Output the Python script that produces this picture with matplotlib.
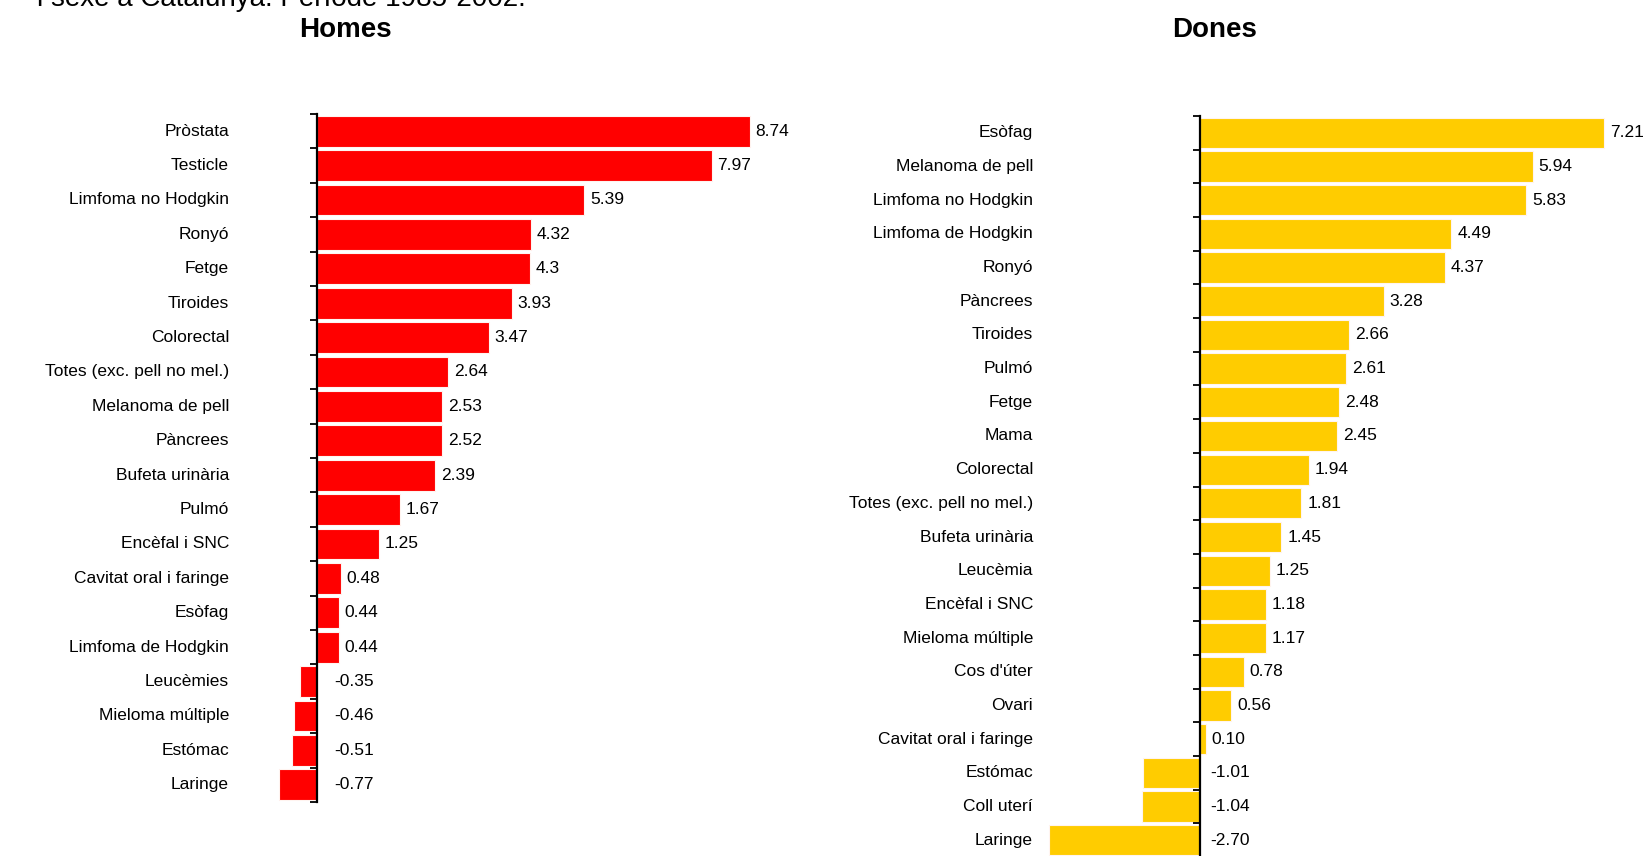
import matplotlib
matplotlib.use("Agg")
import matplotlib.pyplot as plt

plt.rcParams['font.family'] = ['Liberation Sans', 'DejaVu Sans']

# ---------------------------------------------------------------------------
# dades
# ---------------------------------------------------------------------------
homes_cat = ["Pròstata", "Testicle", "Limfoma no Hodgkin", "Ronyó", "Fetge",
             "Tiroides", "Colorectal", "Totes (exc. pell no mel.)",
             "Melanoma de pell", "Pàncrees", "Bufeta urinària", "Pulmó",
             "Encèfal i SNC", "Cavitat oral i faringe", "Esòfag",
             "Limfoma de Hodgkin", "Leucèmies", "Mieloma múltiple",
             "Estómac", "Laringe"]
homes_val = [8.74, 7.97, 5.39, 4.32, 4.3, 3.93, 3.47, 2.64, 2.53, 2.52,
             2.39, 1.67, 1.25, 0.48, 0.44, 0.44, -0.35, -0.46, -0.51, -0.77]
homes_txt = ["8.74", "7.97", "5.39", "4.32", "4.3", "3.93", "3.47", "2.64",
             "2.53", "2.52", "2.39", "1.67", "1.25", "0.48", "0.44", "0.44",
             "-0.35", "-0.46", "-0.51", "-0.77"]

dones_cat = ["Esòfag", "Melanoma de pell", "Limfoma no Hodgkin",
             "Limfoma de Hodgkin", "Ronyó", "Pàncrees", "Tiroides", "Pulmó",
             "Fetge", "Mama", "Colorectal", "Totes (exc. pell no mel.)",
             "Bufeta urinària", "Leucèmia", "Encèfal i SNC",
             "Mieloma múltiple", "Cos d'úter", "Ovari",
             "Cavitat oral i faringe", "Estómac", "Coll uterí", "Laringe"]
dones_val = [7.21, 5.94, 5.83, 4.49, 4.37, 3.28, 2.66, 2.61, 2.48, 2.45,
             1.94, 1.81, 1.45, 1.25, 1.18, 1.17, 0.78, 0.56, 0.10, -1.01,
             -1.04, -2.70]
dones_txt = [f"{v:.2f}" for v in dones_val]

W, H = 1650, 856
FS = 12.5


def panel(fig, rect_px, xlim, cats, vals, txts, color, lab_off, neg_off, title, title_x):
    left, top, width, height = rect_px
    ax = fig.add_axes([left / W, (H - top - height) / H, width / W, height / H])
    n = len(cats)
    y = list(range(n))
    ax.barh(y, vals, height=0.9, color=color, edgecolor="#fff4f0", linewidth=0.8)
    ax.set_xlim(*xlim)
    ax.set_ylim(n - 0.5, -0.5)
    for s in ["top", "right", "bottom"]:
        ax.spines[s].set_visible(False)
    ax.spines["left"].set_position(("data", 0))
    ax.spines["left"].set_linewidth(1.6)
    ax.set_xticks([])
    ax.set_yticks([i - 0.5 for i in range(n + 1)])
    ax.set_yticklabels([])
    ax.tick_params(axis="y", length=5, width=1.3, direction="out")
    for i, (c, v, t) in enumerate(zip(cats, vals, txts)):
        ax.annotate(c, xy=(0, i), xytext=(lab_off, 0), textcoords="offset pixels",
                    ha="right", va="center", fontsize=FS)
        if v >= 0:
            ax.annotate(t, xy=(v, i), xytext=(6, 0), textcoords="offset pixels",
                        ha="left", va="center", fontsize=FS)
        else:
            ax.annotate(t, xy=(0, i), xytext=(neg_off, 0), textcoords="offset pixels",
                        ha="left", va="center", fontsize=FS)
    fig.text(title_x / W, 1 - 30 / H, title, ha="center", va="center",
             fontsize=20, fontweight="bold")
    return ax


fig = plt.figure(figsize=(W / 100, H / 100), dpi=100)

# homes: eix a x=317 px, 49.5 px per unitat
panel(fig, (317 - 0.95 * 49.5, 114, 10.55 * 49.5, 688), (-0.95, 9.6),
      homes_cat, homes_val, homes_txt, "#ff0000", -88, 17, "Homes", 345)

# dones: eix a x=1200 px, 56 px per unitat
panel(fig, (1200 - 2.9 * 56, 116, 10.8 * 56, 741), (-2.9, 7.9),
      dones_cat, dones_val, dones_txt, "#ffcc00", -167, 10, "Dones", 1215)

fig.text(37 / W, 1 - 6 / H, "i sexe a Catalunya. Període 1985-2002.",
         ha="left", va="baseline", fontsize=20)

fig.savefig("out.png", dpi=100, facecolor="white")
